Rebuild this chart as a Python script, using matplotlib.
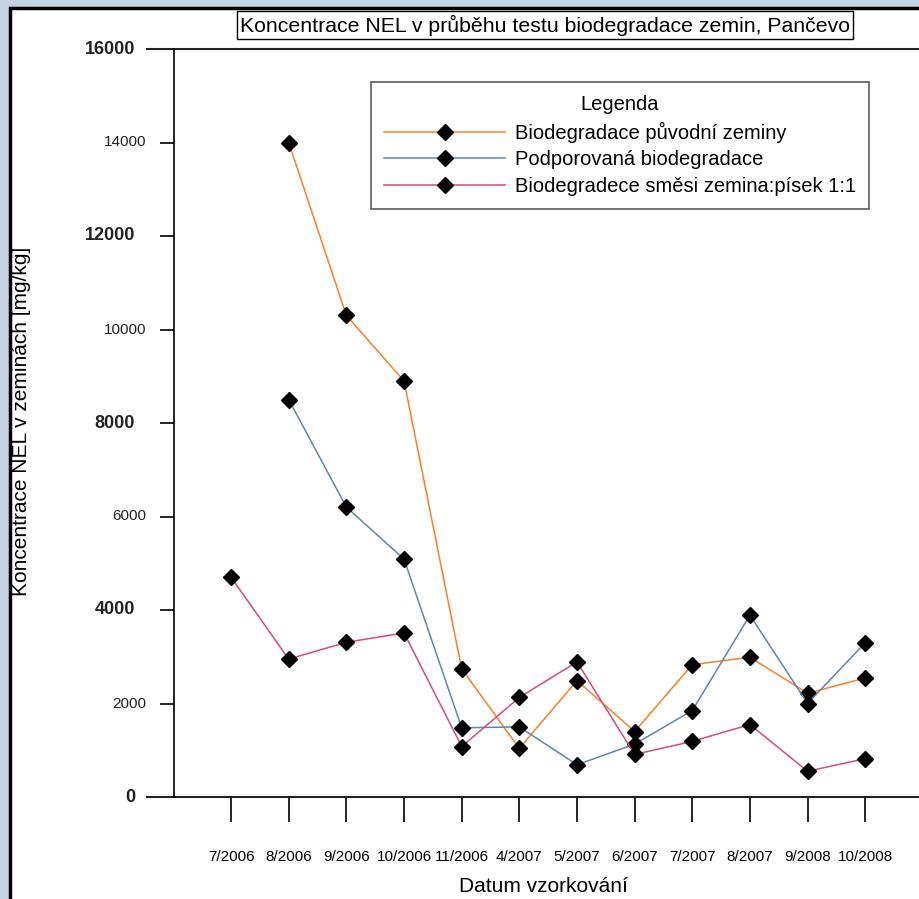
import matplotlib.pyplot as plt
import matplotlib.transforms as mtransforms
from matplotlib.patches import Rectangle
import numpy as np

# data
datumy = ['7/2006', '8/2006', '9/2006', '10/2006', '11/2006', '4/2007', '5/2007',
          '6/2007', '7/2007', '8/2007', '9/2008', '10/2008']
puvodni = [np.nan, 14000, 10300, 8900, 2740, 1040, 2490, 1400, 2830, 2990, 2220, 2545]
podporovana = [np.nan, 8500, 6200, 5090, 1480, 1500, 690, 1130, 1850, 3890, 2000, 3300]
smesi = [4700, 2950, 3310, 3510, 1080, 2130, 2890, 910, 1190, 1550, 550, 820]
yticks = [0, 2000, 4000, 6000, 8000, 10000, 12000, 14000, 16000]

plt.rcParams['font.family'] = ['Liberation Sans', 'DejaVu Sans']

fig = plt.figure(figsize=(9.2, 8.99), dpi=100, facecolor='#c5d3e3')
# bily ramecek okna
fig.patches.append(Rectangle((10/920, -0.01), 1.0, (899-8)/899 + 0.01, transform=fig.transFigure,
                             facecolor='white', edgecolor='black', lw=2.5, zorder=-10))

ax = fig.add_axes([174/920, 102/899, 746/920, 748/899])
ax.set_facecolor('none')

x = np.arange(len(datumy))
ax.plot(x, puvodni, color='#ff7f27', lw=1.1, marker='D', ms=8, mfc='black', mec='black',
        label='Biodegradace původní zeminy')
ax.plot(x, podporovana, color='#5b86b4', lw=1.1, marker='D', ms=8, mfc='black', mec='black',
        label='Podporovaná biodegradace')
ax.plot(x, smesi, color='#d9497c', lw=1.1, marker='D', ms=8, mfc='black', mec='black',
        label='Biodegradece směsi zemina:písek 1:1')

ax.set_xlim(-0.99, 11.95)
ax.set_ylim(0, 16000)

for s in ['top', 'right', 'bottom']:
    ax.spines[s].set_visible(False)
ax.spines['left'].set_linewidth(1.2)
# horni a dolni cara presahuje doleva
ax.plot([-27/746, 1], [0, 0], transform=ax.transAxes, color='#222222', lw=1.5, clip_on=False)
ax.plot([-27/746, 1], [1, 1], transform=ax.transAxes, color='#222222', lw=1.5, clip_on=False)

ax.set_xticks(x)
ax.set_xticklabels(datumy, fontsize=11)
ax.tick_params(axis='x', direction='out', length=18, width=1.2, pad=20)

ax.set_yticks(yticks)
ax.set_yticklabels([])
ax.tick_params(axis='y', direction='out', length=10, width=1.2)
trans = mtransforms.blended_transform_factory(ax.transAxes, ax.transData)
for i, v in enumerate(yticks):
    if i % 2 == 0:
        ax.text(-39/746, v, str(v), transform=trans, ha='right', va='center',
                fontsize=13, fontweight='bold', color='#222222')
    else:
        ax.text(-28/746, v, str(v), transform=trans, ha='right', va='center',
                fontsize=11, color='#222222')

fig.text(22/920, 1 - 421/899, 'Koncentrace NEL v zeminách [mg/kg]', rotation=90, ha='center',
         va='center', fontsize=15)
fig.text(543/920, 1 - 887/899, 'Datum vzorkování', ha='center', va='center', fontsize=15)
fig.text(545/920, 1 - 25/899, 'Koncentrace NEL v průběhu testu biodegradace zemin, Pančevo',
         ha='center', va='center', fontsize=15.3,
         bbox=dict(boxstyle='square,pad=0.15', facecolor='white', edgecolor='black', lw=1))

leg = ax.legend(loc='upper left', bbox_to_anchor=((371-174)/746, 1 - (82-49)/748),
                borderaxespad=0, title='Legenda', fontsize=14.5, title_fontsize=14.5,
                frameon=True, fancybox=False, edgecolor='#333333', handlelength=6.0,
                borderpad=0.65, labelspacing=0.38, handletextpad=0.5)
leg.get_frame().set_linewidth(1.2)

fig.savefig('out.png', dpi=100, facecolor=fig.get_facecolor())
